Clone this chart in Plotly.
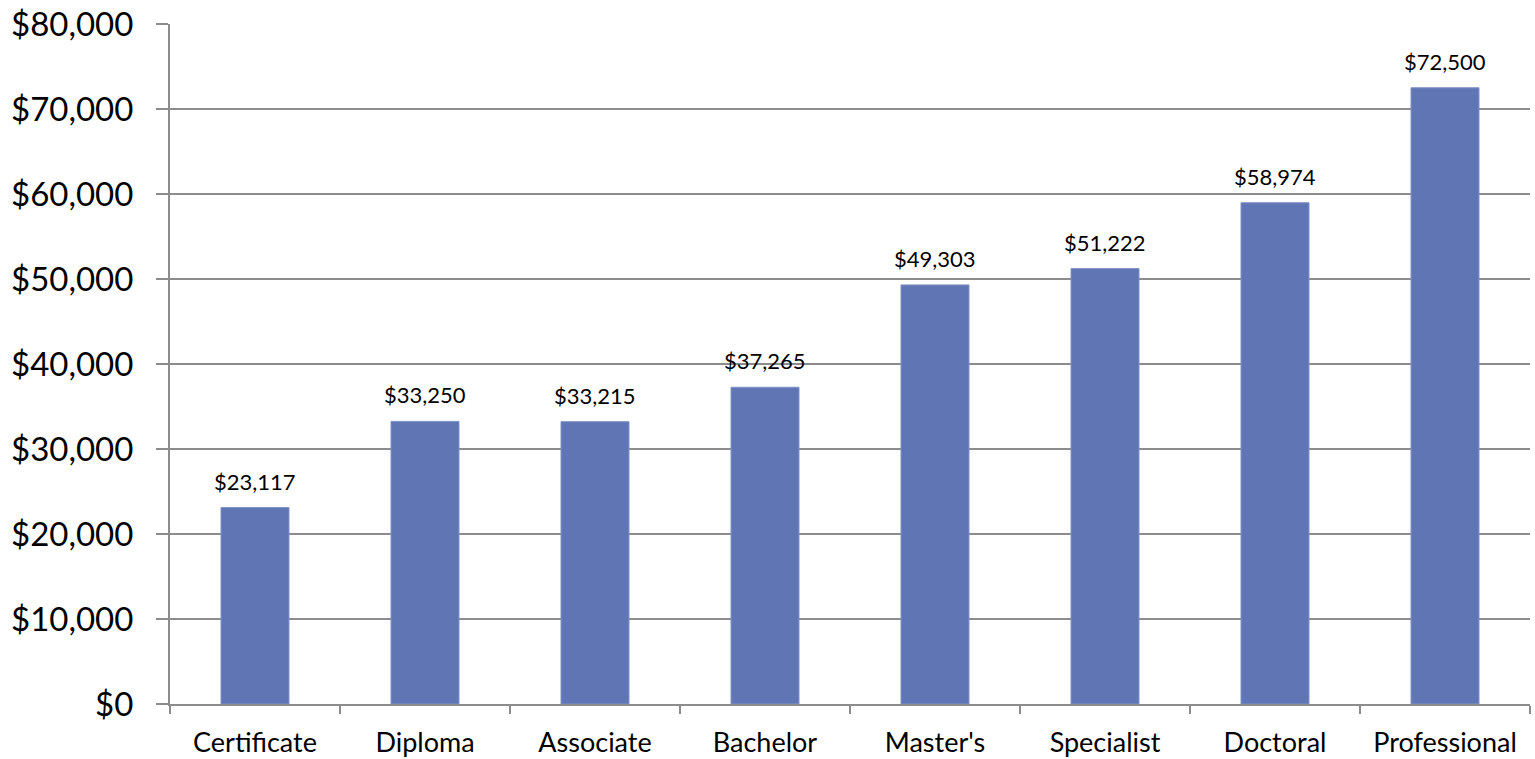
import plotly.graph_objects as go

degrees = ["Certificate", "Diploma", "Associate", "Bachelor", "Master's",
           "Specialist", "Doctoral", "Professional"]
salaries = [23117, 33250, 33215, 37265, 49303, 51222, 58974, 72500]

FONT = "Lato"
GRID = "#8c8c8c"

fig = go.Figure(
    go.Bar(
        x=degrees,
        y=salaries,
        width=0.4,
        marker=dict(color="#6076b4", line=dict(color="#7f92c6", width=1)),
        hoverinfo="x+y",
    )
)

# value labels above each bar
for d, v in zip(degrees, salaries):
    fig.add_annotation(
        x=d, y=v, text=f"${v:,}", showarrow=False,
        yanchor="bottom", yshift=11,
        font=dict(family=FONT, size=22, color="#000000"),
    )

fig.update_layout(
    width=1535, height=759,
    margin=dict(l=170, r=5, t=24, b=55),
    plot_bgcolor="white", paper_bgcolor="white",
    showlegend=False,
    font=dict(family=FONT, color="#000000"),
    bargap=0.6,
)
fig.update_yaxes(
    range=[0, 80000], dtick=10000, tickformat="$,",
    showgrid=True, gridcolor=GRID, gridwidth=2,
    showline=True, linecolor=GRID, linewidth=2,
    ticks="outside", ticklen=12, tickcolor=GRID, tickwidth=2,
    tickfont=dict(family=FONT, size=33, color="#000000"),
    ticklabelstandoff=16,
    zeroline=False, automargin=False,
)
fig.update_xaxes(
    showline=True, linecolor=GRID, linewidth=2,
    ticks="outside", tickson="boundaries", ticklen=8,
    tickcolor=GRID, tickwidth=2,
    tickfont=dict(family=FONT, size=27, color="#000000"),
    ticklabelstandoff=14,
    showgrid=False, automargin=False,
)

fig.write_html("out.html")
